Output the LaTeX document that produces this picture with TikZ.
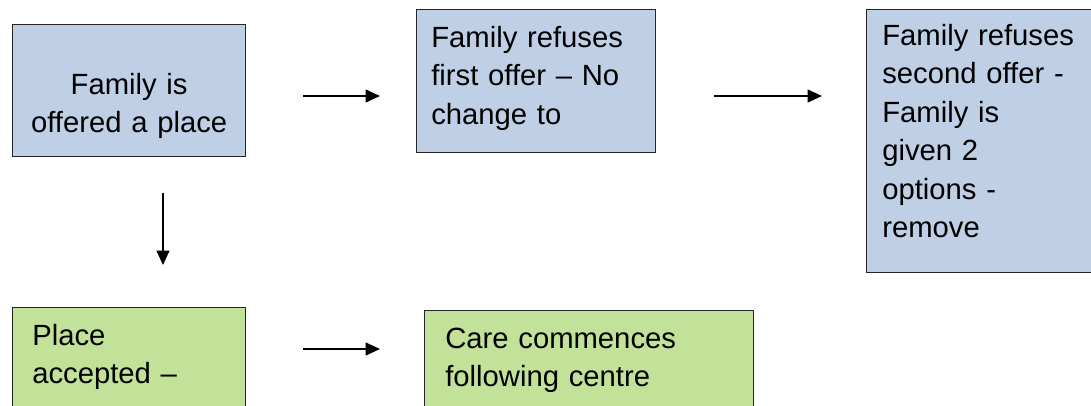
\documentclass[tikz,border=0pt]{standalone}
\usepackage{fontspec}
\setmainfont{Liberation Sans}
\usetikzlibrary{arrows.meta, positioning}
\definecolor{offerblue}{RGB}{191,208,230}
\definecolor{acceptgreen}{RGB}{194,225,153}

\begin{document}
\begin{tikzpicture}[
    stagebox/.style={draw=black!85, line width=0.9pt, inner sep=0pt, anchor=north west},
    boxtext/.style={anchor=base west, align=left, inner sep=0pt, text width=#1, font=\fontsize{20.8}{27.4}\selectfont},
    flow/.style={-{Triangle[length=0.36cm, width=0.32cm]}, line width=1.3pt}
]
    \useasboundingbox (0,0) rectangle (27.275,-10.125);
    \clip (0,0) rectangle (27.275,-10.125);

    % offer stage
    \node[stagebox, fill=offerblue, minimum width=5.825cm, minimum height=3.3cm] (offered) at (0.3,-0.6) {};
    \node[stagebox, fill=offerblue, minimum width=5.975cm, minimum height=3.575cm] (refuse1) at (10.4,-0.225) {};
    \node[stagebox, fill=offerblue, minimum width=6cm, minimum height=6.575cm] (refuse2) at (21.65,-0.225) {};

    \node[boxtext=5.5cm, anchor=base, align=center] (offeredtxt) at ([yshift=-1.75cm]offered.north) {Family is\\offered a place};
    \node[boxtext=5.5cm] (refuse1txt) at ([xshift=0.375cm, yshift=-0.95cm]refuse1.north west) {Family refuses\\first offer -- No\\change to};
    \node[boxtext=5.5cm] (refuse2txt) at ([xshift=0.4cm, yshift=-0.9cm]refuse2.north west) {Family refuses\\second offer -\\Family is\\given 2\\options -\\remove};

    % accept stage
    \node[stagebox, fill=acceptgreen, minimum width=5.825cm, minimum height=3cm] (accepted) at (0.3,-7.675) {};
    \node[stagebox, fill=acceptgreen, minimum width=8.225cm, minimum height=3cm] (commence) at (10.6,-7.75) {};

    \node[boxtext=5.2cm] (acceptedtxt) at ([xshift=0.5cm, yshift=-0.95cm]accepted.north west) {Place\\accepted --};
    \node[boxtext=7.5cm] (commencetxt) at ([xshift=0.525cm, yshift=-0.95cm]commence.north west) {Care commences\\following centre};

    % arrow ends
    \coordinate (r1a) at (7.575,-2.4);
    \coordinate (r1b) at (9.5,-2.4);
    \coordinate (r2a) at (17.85,-2.4);
    \coordinate (r2b) at (20.55,-2.4);
    \coordinate (dna) at (4.075,-4.825);
    \coordinate (dnb) at (4.075,-6.625);
    \coordinate (cma) at (7.575,-8.725);
    \coordinate (cmb) at (9.5,-8.725);

    \draw[flow] (r1a) -- (r1b);
    \draw[flow] (r2a) -- (r2b);
    \draw[flow] (dna) -- (dnb);
    \draw[flow] (cma) -- (cmb);
\end{tikzpicture}
\end{document}
